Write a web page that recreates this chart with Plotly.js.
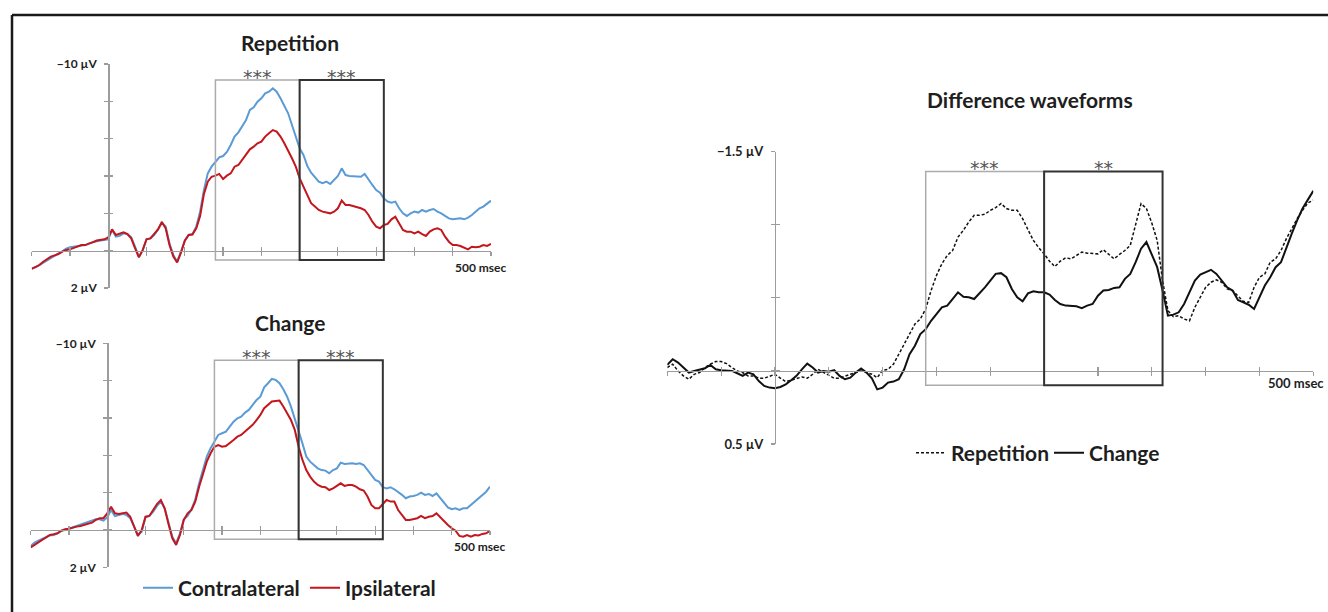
<!DOCTYPE html>
<html><head><meta charset="utf-8">
<script src="https://cdn.plot.ly/plotly-3.0.1.min.js"></script>
<style>html,body{margin:0;padding:0;background:#fff;} #chart{width:1328px;height:612px;}</style>
</head><body><div id="chart"></div>
<script>
// ---------- data ----------
const timeMs = [-100,-95,-90,-85,-80,-75,-70,-65,-60,-55,-50,-45,-40,-35,-30,-25,-20,-15,-10,-5,
0,5,10,15,20,25,30,35,40,45,50,55,60,65,70,75,80,85,90,95,
100,105,110,115,120,125,130,135,140,145,150,155,160,165,170,175,180,185,190,195,
200,205,210,215,220,225,230,235,240,245,250,255,260,265,270,275,280,285,290,295,
300,305,310,315,320,325,330,335,340,345,350,355,360,365,370,375,380,385,390,395,
400,405,410,415,420,425,430,435,440,445,450,455,460,465,470,475,480,485,490,495,500];
const tickTimes = [-100,-50,0,50,100,150,200,250,300,350,400,450,500];

// Repetition panel (µV, negative up)
const repContra = [0.95,0.89,0.77,0.64,0.50,0.38,0.23,0.14,0.04,-0.11,
-0.18,-0.21,-0.25,-0.29,-0.30,-0.39,-0.46,-0.50,-0.54,-0.57,
-0.61,-1.11,-0.75,-0.79,-0.93,-0.89,-0.71,-0.21,0.32,0.00,
-0.61,-0.66,-0.84,-1.14,-1.50,-1.29,-0.39,0.23,0.59,0.05,
-0.54,-0.84,-0.89,-1.29,-2.09,-3.25,-4.14,-4.50,-4.77,-5.00,
-5.07,-5.29,-5.66,-6.11,-6.34,-6.68,-7.00,-7.54,-7.68,-7.98,
-8.16,-8.43,-8.52,-8.70,-8.52,-8.16,-7.80,-7.36,-6.73,-6.11,
-5.48,-5.13,-4.54,-4.18,-3.96,-3.70,-3.61,-3.70,-3.57,-3.79,
-4.00,-4.41,-4.05,-4.00,-4.00,-3.96,-3.96,-4.11,-3.79,-3.52,
-3.25,-3.11,-2.80,-2.63,-2.57,-2.63,-2.27,-2.00,-1.86,-2.00,
-2.09,-2.04,-2.18,-2.09,-2.18,-2.23,-2.09,-2.00,-1.86,-1.73,
-1.68,-1.70,-1.73,-1.68,-1.77,-1.91,-2.09,-2.27,-2.36,-2.54,
-2.68];
const repIpsi = [0.98,0.89,0.77,0.59,0.46,0.32,0.25,0.18,0.05,-0.04,
-0.07,-0.14,-0.21,-0.30,-0.30,-0.36,-0.46,-0.54,-0.57,-0.61,
-0.71,-1.14,-0.84,-0.89,-0.98,-0.89,-0.66,-0.13,0.36,-0.04,
-0.61,-0.66,-0.93,-1.14,-1.54,-1.20,-0.30,0.32,0.63,0.11,
-0.54,-0.84,-0.86,-1.20,-1.86,-3.04,-3.70,-3.96,-4.02,-4.11,
-3.84,-4.02,-4.14,-4.50,-4.59,-4.86,-5.13,-5.43,-5.57,-5.75,
-5.84,-6.11,-6.29,-6.46,-6.38,-6.11,-5.75,-5.39,-4.95,-4.50,
-3.88,-3.43,-2.98,-2.54,-2.36,-2.18,-2.09,-2.04,-2.00,-2.09,
-2.27,-2.68,-2.45,-2.45,-2.39,-2.36,-2.27,-2.18,-1.91,-1.55,
-1.29,-1.20,-1.38,-1.43,-1.68,-1.82,-1.50,-1.11,-1.02,-1.02,
-0.93,-1.02,-0.89,-0.79,-1.02,-1.14,-1.20,-1.11,-0.75,-0.48,
-0.30,-0.30,-0.25,-0.16,-0.07,-0.21,-0.18,-0.21,-0.30,-0.25,
-0.36];

// Change panel
const chgContra = [0.86,0.68,0.57,0.50,0.39,0.29,0.27,0.18,0.05,0.00,
-0.07,-0.14,-0.21,-0.25,-0.32,-0.39,-0.50,-0.57,-0.57,-0.50,
-0.68,-1.07,-0.75,-0.80,-0.86,-0.80,-0.63,-0.18,0.27,0.09,
-0.68,-0.75,-0.98,-1.29,-1.52,-1.16,-0.36,0.36,0.71,0.18,
-0.57,-0.75,-1.11,-1.64,-2.50,-3.21,-3.93,-4.38,-4.73,-5.09,
-5.18,-5.27,-5.54,-5.80,-5.98,-6.07,-6.29,-6.43,-6.70,-6.96,
-7.14,-7.64,-7.86,-8.09,-8.04,-7.86,-7.54,-7.14,-6.61,-5.98,
-5.27,-4.64,-3.93,-3.66,-3.48,-3.30,-3.21,-3.18,-3.04,-3.21,
-3.30,-3.61,-3.54,-3.57,-3.57,-3.54,-3.57,-3.48,-3.21,-3.00,
-2.68,-2.59,-2.29,-2.23,-2.29,-2.18,-2.05,-1.88,-1.70,-1.79,
-1.82,-1.88,-2.00,-1.88,-1.93,-1.82,-1.96,-1.70,-1.43,-1.21,
-1.11,-1.16,-1.07,-1.16,-1.16,-1.34,-1.52,-1.70,-1.88,-2.05,
-2.32];
const chgIpsi = [0.93,0.80,0.68,0.54,0.39,0.27,0.23,0.18,0.04,-0.04,
-0.07,-0.14,-0.18,-0.21,-0.27,-0.32,-0.39,-0.54,-0.63,-0.63,
-0.89,-1.25,-0.89,-0.86,-0.89,-0.93,-0.71,-0.18,0.32,0.00,
-0.71,-0.75,-1.11,-1.39,-1.61,-1.16,-0.32,0.45,0.80,0.27,
-0.54,-0.89,-1.07,-1.52,-2.32,-3.00,-3.66,-4.11,-4.46,-4.55,
-4.46,-4.50,-4.64,-4.82,-5.00,-5.09,-5.27,-5.45,-5.63,-5.89,
-6.16,-6.52,-6.70,-6.88,-6.91,-6.93,-6.61,-6.25,-5.89,-5.36,
-4.46,-3.75,-3.21,-2.86,-2.59,-2.41,-2.32,-2.29,-2.14,-2.23,
-2.36,-2.50,-2.36,-2.41,-2.41,-2.32,-2.18,-2.11,-1.79,-1.34,
-1.16,-1.16,-1.39,-1.61,-1.52,-1.52,-1.07,-0.80,-0.54,-0.54,
-0.57,-0.63,-0.75,-0.63,-0.71,-0.75,-0.89,-0.68,-0.45,-0.27,
-0.09,0.04,0.32,0.36,0.27,0.36,0.27,0.29,0.21,0.18,
0.04];

// Difference waveforms (contra - ipsi)
const diffRep = [-0.023,-0.046,0.000,0.034,0.057,0.023,0.011,-0.023,-0.046,-0.064,
-0.064,-0.050,-0.023,0.000,0.011,0.034,0.034,0.050,0.050,0.034,
0.023,0.050,0.073,0.064,0.050,0.041,0.050,0.023,-0.011,0.011,
0.034,0.050,0.050,0.034,0.023,0.011,0.000,0.011,0.023,0.046,
-0.005,-0.011,-0.046,-0.114,-0.183,-0.252,-0.321,-0.355,-0.424,-0.550,
-0.653,-0.733,-0.790,-0.824,-0.916,-0.962,-1.019,-1.065,-1.065,-1.072,
-1.099,-1.117,-1.145,-1.111,-1.099,-1.099,-1.042,-0.966,-0.893,-0.843,
-0.801,-0.751,-0.714,-0.751,-0.774,-0.767,-0.790,-0.813,-0.806,-0.806,
-0.801,-0.829,-0.801,-0.767,-0.797,-0.824,-0.859,-1.012,-1.145,-1.111,
-1.012,-0.893,-0.618,-0.412,-0.371,-0.378,-0.355,-0.343,-0.435,-0.504,
-0.572,-0.607,-0.623,-0.607,-0.561,-0.550,-0.515,-0.476,-0.469,-0.572,
-0.641,-0.664,-0.744,-0.767,-0.824,-0.905,-0.973,-1.042,-1.099,-1.150,
-1.168];
const diffChg = [-0.041,-0.080,-0.057,-0.023,0.011,0.000,-0.011,-0.018,-0.041,-0.011,
-0.005,-0.005,0.000,0.016,0.034,0.011,0.023,0.069,0.103,0.114,
0.119,0.110,0.092,0.064,0.034,-0.011,-0.050,-0.023,0.011,0.000,
0.005,-0.005,0.034,0.057,0.046,0.011,-0.016,0.011,0.050,0.126,
0.114,0.080,0.073,0.057,-0.011,-0.114,-0.172,-0.252,-0.286,-0.343,
-0.389,-0.435,-0.447,-0.492,-0.538,-0.508,-0.504,-0.492,-0.531,-0.572,
-0.618,-0.664,-0.669,-0.641,-0.561,-0.504,-0.476,-0.531,-0.545,-0.538,
-0.538,-0.522,-0.485,-0.458,-0.447,-0.447,-0.442,-0.430,-0.447,-0.458,
-0.515,-0.550,-0.554,-0.568,-0.572,-0.630,-0.664,-0.744,-0.836,-0.882,
-0.801,-0.710,-0.550,-0.378,-0.385,-0.401,-0.458,-0.538,-0.618,-0.659,
-0.675,-0.692,-0.664,-0.618,-0.572,-0.550,-0.485,-0.469,-0.453,-0.424,
-0.504,-0.584,-0.641,-0.710,-0.744,-0.847,-0.939,-1.030,-1.111,-1.172,
-1.232];

const leftTickVals = [-10,-8,-6,-4,-2,0,2];
const leftTickText = ['−10 µV','','','','','','2 µV'];
const rightTickVals = [-1.5,-1,-0.5,0,0.5];
const rightTickText = ['−1.5 µV','','','','0.5 µV'];
const panelTitles = ['Repetition','Change','Difference waveforms'];
const seriesNames = ['Contralateral','Ipsilateral','Repetition','Change'];
const windowsMs = [[140,250],[250,360]];
const sigLeftTop = ['***','***'];
const sigLeftBottom = ['***','***'];
const sigRight = ['***','**'];
const xEndLabel = '500 msec';

// ---------- layout helpers ----------
const W = 1328, H = 612;
const px = x => x / W, py = y => 1 - y / H;
const AX = '#9c9c9c';
const BLUE = '#5b9bd5', RED = '#c3161d';
const TXT = '#1e1e1e';
const tickFont = (s) => ({family:'Lato', size:s, weight:700, color:TXT});

function xMain(domain, pos){
  return {domain, range:[-100,500], anchor:'free', position:pos, tickmode:'array',
    tickvals:tickTimes, ticktext:tickTimes.map(()=>''), ticks:'outside', ticklen:4, tickwidth:1.2,
    tickcolor:AX, showline:true, linecolor:AX, linewidth:1.5, showgrid:false, zeroline:false,
    fixedrange:true, automargin:false};
}
function xOver(over, pos){
  return {overlaying:over, range:[-100,500], anchor:'free', position:pos, tickmode:'array',
    tickvals:tickTimes, showticklabels:false, ticks:'inside', ticklen:4, tickwidth:1.2, tickcolor:AX,
    showline:false, showgrid:false, zeroline:false, fixedrange:true, automargin:false};
}
function yMain(domain, pos, range, vals, text, fs){
  return {domain, range, anchor:'free', position:pos, tickmode:'array', tickvals:vals, ticktext:text,
    ticks:'outside', ticklen:4, tickwidth:1.2, tickcolor:AX, showline:true, linecolor:AX, linewidth:1.5,
    showgrid:false, zeroline:false, tickfont:tickFont(fs), ticklabelstandoff:5, fixedrange:true, automargin:false};
}
function yOver(over, pos, range, vals){
  return {overlaying:over, range, anchor:'free', position:pos, tickmode:'array', tickvals:vals,
    showticklabels:false, ticks:'inside', ticklen:4, tickwidth:1.2, tickcolor:AX, showline:false,
    showgrid:false, zeroline:false, fixedrange:true, automargin:false};
}

// panel geometry (pixels)
const A = {x0:31.7, x1:491, yTop:64, yBot:288};
const B = {x0:30.7, x1:490, yTop:343.3, yBot:567.3};
const C = {x0:667.3, x1:1313.3, yTop:151.7, yBot:444};
const xPos0 = g => px(g.x0 + (g.x1 - g.x0) / 6);           // x = 0 ms
const yZeroL = g => py(g.yTop + (g.yBot - g.yTop) * 10 / 12); // y = 0 µV (left)
const yZeroR = g => py(g.yTop + (g.yBot - g.yTop) * 0.75);    // y = 0 µV (right)

const legFont = {family:'Lato', size:21, weight:700, color:TXT};
const leg = (x, y) => ({x:px(x), y:py(y), xanchor:'left', yanchor:'middle', orientation:'h', bgcolor:'rgba(0,0,0,0)', font:legFont});

const layout = {
  width: W, height: H, margin:{l:0,r:0,t:0,b:0}, paper_bgcolor:'#fff', plot_bgcolor:'rgba(0,0,0,0)',
  font:{family:'Lato', color:TXT},
  xaxis: xMain([px(A.x0), px(A.x1)], yZeroL(A)),
  yaxis: yMain([py(A.yBot), py(A.yTop)], xPos0(A), [2,-10], leftTickVals, leftTickText, 12),
  xaxis2: xMain([px(B.x0), px(B.x1)], yZeroL(B)),
  yaxis2: yMain([py(B.yBot), py(B.yTop)], xPos0(B), [2,-10], leftTickVals, leftTickText, 12),
  xaxis3: xMain([px(C.x0), px(C.x1)], yZeroR(C)),
  yaxis3: yMain([py(C.yBot), py(C.yTop)], xPos0(C), [0.5,-1.5], rightTickVals, rightTickText, 13),
  xaxis4: xOver('x', yZeroL(A)),
  yaxis4: yOver('y', xPos0(A), [2,-10], leftTickVals),
  xaxis5: xOver('x2', yZeroL(B)),
  yaxis5: yOver('y2', xPos0(B), [2,-10], leftTickVals),
  xaxis6: xOver('x3', yZeroR(C)),
  yaxis6: yOver('y3', xPos0(C), [0.5,-1.5], rightTickVals),
  showlegend: true,
  legend:  leg(138, 588),
  legend2: leg(305, 588),
  legend3: leg(911, 453),
  legend4: leg(1049, 453),
  shapes: [], annotations: []
};

// frame (top and left edges)
layout.shapes.push({type:'line', xref:'paper', yref:'paper', x0:px(12), x1:1, y0:py(15), y1:py(15), line:{color:'#1a1a1a', width:2.5}});
layout.shapes.push({type:'line', xref:'paper', yref:'paper', x0:px(12), x1:px(12), y0:py(15), y1:0, line:{color:'#1a1a1a', width:2.5}});

// analysis windows + significance
const boxSpecs = [
  {xr:'x', yr:'y', top:-9.14, bot:0.5, sig:sigLeftTop, shift:3},
  {xr:'x2', yr:'y2', top:-9.09, bot:0.5, sig:sigLeftBottom, shift:3},
  {xr:'x3', yr:'y3', top:-1.364, bot:0.098, sig:sigRight, shift:4}
];
boxSpecs.forEach(b => {
  windowsMs.forEach((w, i) => {
    layout.shapes.push({type:'rect', xref:b.xr, yref:b.yr, x0:w[0], x1:w[1], y0:b.top, y1:b.bot,
      line:{color: i === 0 ? '#ababab' : '#333333', width: i === 0 ? 1.5 : 2}, fillcolor:'rgba(0,0,0,0)'});
    layout.annotations.push({xref:b.xr, yref:b.yr, x:(w[0]+w[1])/2, y:b.top, yanchor:'middle', xanchor:'center',
      yshift:b.shift, text:b.sig[i], showarrow:false, font:{family:'DejaVu Sans', size:19, color:'#555'}});
  });
});

// titles
[[panelTitles[0], 290, 43], [panelTitles[1], 290, 322], [panelTitles[2], 1030, 100]].forEach(t => {
  layout.annotations.push({xref:'paper', yref:'paper', x:px(t[1]), y:py(t[2]), xanchor:'center', yanchor:'middle',
    text:t[0], showarrow:false, font:{family:'Lato', size:21, weight:700, color:TXT}});
});

// "500 msec" axis-end labels
[['x','y',-10,-17,12], ['x2','y2',-10,-17,12], ['x3','y3',-17,-12,13]].forEach(a => {
  layout.annotations.push({xref:a[0], yref:a[1], x:500, y:0, xanchor:'center', yanchor:'middle',
    xshift:a[2], yshift:a[3], text:xEndLabel, showarrow:false, font:tickFont(a[4])});
});

const dummy = (xa, ya) => ({x:[null], y:[null], xaxis:xa, yaxis:ya, mode:'lines', showlegend:false, hoverinfo:'skip'});

const data = [
  {x:timeMs, y:repContra, xaxis:'x', yaxis:'y', mode:'lines', name:seriesNames[0], legend:'legend', line:{color:BLUE, width:2}},
  {x:timeMs, y:repIpsi, xaxis:'x', yaxis:'y', mode:'lines', name:seriesNames[1], legend:'legend2', line:{color:RED, width:2}},
  {x:timeMs, y:chgContra, xaxis:'x2', yaxis:'y2', mode:'lines', name:seriesNames[0], showlegend:false, line:{color:BLUE, width:2}},
  {x:timeMs, y:chgIpsi, xaxis:'x2', yaxis:'y2', mode:'lines', name:seriesNames[1], showlegend:false, line:{color:RED, width:2}},
  {x:timeMs, y:diffRep, xaxis:'x3', yaxis:'y3', mode:'lines', name:seriesNames[2], legend:'legend3', line:{color:'#111', width:1.5, dash:'3px,2px'}},
  {x:timeMs, y:diffChg, xaxis:'x3', yaxis:'y3', mode:'lines', name:seriesNames[3], legend:'legend4', line:{color:'#111', width:2}},
  dummy('x4','y'), dummy('x','y4'), dummy('x5','y2'), dummy('x2','y5'), dummy('x6','y3'), dummy('x3','y6')
];

Plotly.newPlot('chart', data, layout, {staticPlot:true, displayModeBar:false});
</script>
</body></html>
